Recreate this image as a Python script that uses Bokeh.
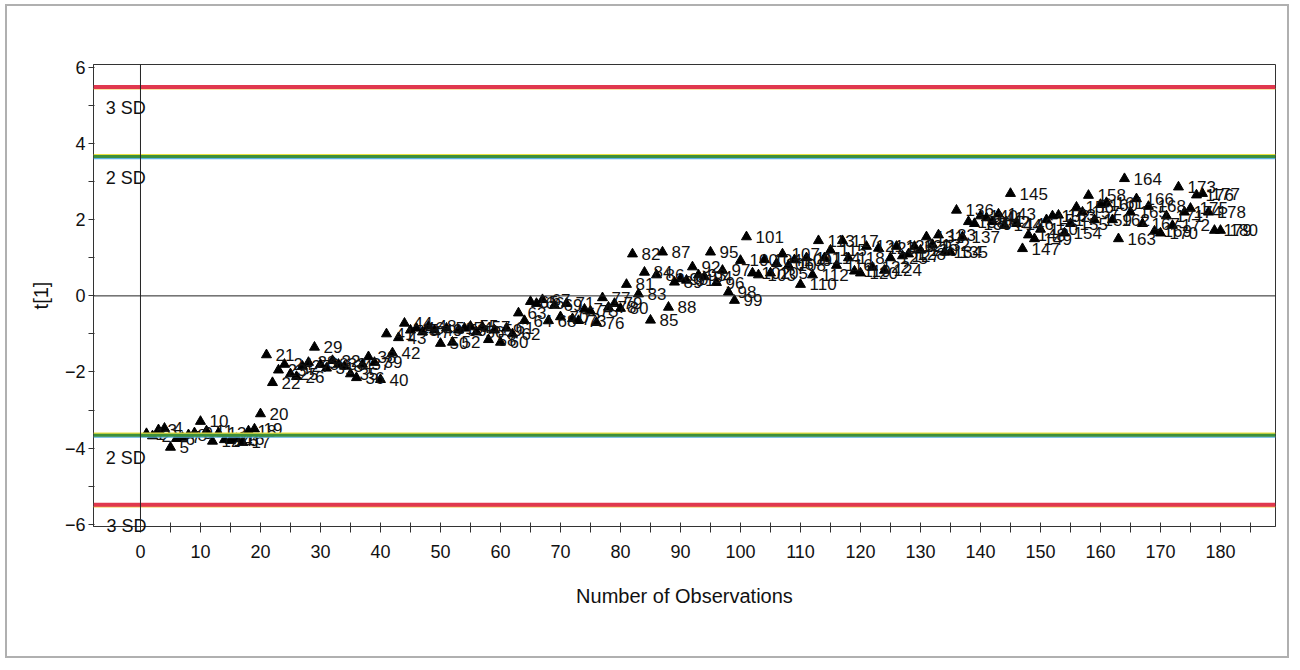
from bokeh.plotting import figure
from bokeh.models import Span, Label, FixedTicker, Range1d, ColumnDataSource, LinearAxis
from bokeh.core.properties import value
from bokeh.embed import file_html
from bokeh.resources import INLINE

obs = list(range(1, 181))
t1 = [
    -3.62, -3.68, -3.52, -3.48, -3.98, -3.75, -3.72, -3.65, -3.60, -3.30,
    -3.55, -3.82, -3.60, -3.78, -3.80, -3.75, -3.85, -3.55, -3.50, -3.10,
    -1.55, -2.28, -1.95, -1.80, -2.05, -2.12, -1.85, -1.75, -1.35, -1.80,
    -1.90, -1.70, -1.80, -1.85, -2.05, -2.15, -1.80, -1.60, -1.75, -2.20,
    -1.00, -1.50, -1.10, -0.72,
    -0.90, -0.85, -0.95, -0.80, -0.90, -1.25, -0.85, -1.22, -0.90, -0.85,
    -0.80, -0.95, -0.82, -1.15, -0.90, -1.22, -0.85, -1.00, -0.45, -0.65,
    -0.15, -0.20, -0.10, -0.65, -0.25, -0.55, -0.20, -0.60, -0.65, -0.35,
    -0.40, -0.70, -0.05, -0.30, -0.20, -0.33, 0.30, 1.10, 0.05, 0.62,
    -0.64, 0.55, 1.15, -0.30,
    0.36, 0.45, 0.41, 0.76, 0.55, 0.50, 1.15, 0.35, 0.67, 0.10, -0.12,
    0.93, 1.55, 0.60, 0.55, 0.95, 0.60, 0.85, 1.10, 0.80, 0.95,
    0.30, 1.00, 0.55, 1.45, 1.00, 1.20, 0.80, 1.45, 1.00, 0.65,
    0.60, 1.30, 0.75, 1.25, 0.67, 1.00, 1.30, 1.05, 1.10, 1.30,
    1.20, 1.55, 1.35, 1.60, 1.15, 1.15,
    2.25, 1.55, 1.95, 1.90, 2.10, 2.05, 1.95, 2.15, 1.85, 2.69,
    1.90, 1.24, 1.60, 1.50, 1.75, 2.00, 2.10, 2.12, 1.65, 1.90,
    2.33, 2.20, 2.64, 2.00, 2.40, 2.45, 2.00, 1.50, 3.08, 2.20,
    2.55, 1.90, 2.35, 1.70, 1.65, 2.10, 1.85, 2.86, 2.20, 2.30,
    2.65, 2.69, 2.20, 1.72, 1.72,
]
labels = [str(i) for i in obs]

sd2 = 3.66
sd3 = 5.49
x_ticks = list(range(0, 181, 10))
x_minor = list(range(5, 190, 10))
y_ticks = [-6, -4, -2, 0, 2, 4, 6]
y_minor = [-5, -3, -1, 1, 3, 5]

FONT = "Liberation Sans"

src = ColumnDataSource(dict(obs=obs, t1=t1, lab=labels))

p = figure(width=1284, height=654, output_backend="svg", toolbar_location=None,
           x_range=Range1d(-7.83, 189.17), y_range=Range1d(-6.06, 6.08),
           min_border_left=86, min_border_top=58, min_border_right=16,
           min_border_bottom=134)
p.margin = (4, 0, 0, 5)
p.styles = {"border": "2px solid #b0b0b0"}
p.grid.visible = False
p.outline_line_color = "#333333"
p.outline_line_width = 1
p.background_fill_color = "white"
p.border_fill_color = "white"

# SD limit lines
for s in (1, -1):
    p.add_layout(Span(location=s * sd3 - 0.05, dimension="width", line_color="#f2c84a", line_width=1.5))
    p.add_layout(Span(location=s * sd3, dimension="width", line_color="#e0384e", line_width=4))
    p.add_layout(Span(location=s * sd2 + 0.05, dimension="width", line_color="#e8e040", line_width=1.5))
    p.add_layout(Span(location=s * sd2 - 0.05, dimension="width", line_color="#5ab0e0", line_width=1.5))
    p.add_layout(Span(location=s * sd2, dimension="width", line_color="#3c8f3c", line_width=3))

p.add_layout(Span(location=0, dimension="width", line_color="#222222", line_width=1))
p.add_layout(Span(location=0, dimension="height", line_color="#222222", line_width=1))

p.scatter(x="obs", y="t1", source=src, marker="triangle", size=10,
          fill_color="black", line_color="black")
p.text(x="obs", y="t1", text="lab", source=src, x_offset=9,
       text_baseline="middle", text_align="left",
       text_font=value(FONT), text_font_size="17px", text_color="#111111")

for txt, yv in (("3 SD", 4.93), ("2 SD", 3.09), ("2 SD", -4.27)):
    p.add_layout(Label(x=-5.8, y=yv, text=txt, text_baseline="middle",
                       text_font=FONT, text_font_size="18px", text_color="#111111"))

xa = p.xaxis[0]
xa.ticker = FixedTicker(ticks=x_ticks, minor_ticks=x_minor)
xa.axis_label = "Number of Observations"
ya = p.yaxis[0]
ya.ticker = FixedTicker(ticks=y_ticks, minor_ticks=y_minor)
ya.axis_label = "t[1]"

for ax in (xa, ya):
    ax.axis_label_text_font = FONT
    ax.axis_label_text_font_size = "20px"
    ax.axis_label_text_font_style = "normal"
    ax.axis_label_text_color = "#111111"
    ax.major_label_text_font = FONT
    ax.major_label_text_font_size = "18px"
    ax.major_label_text_color = "#111111"
    ax.axis_line_color = "#333333"
    ax.major_tick_line_color = "#333333"
    ax.minor_tick_line_color = "#333333"

xa.major_tick_in = 4
xa.major_tick_out = 6
xa.minor_tick_in = 4
xa.minor_tick_out = 6
xa.major_label_standoff = 12
xa.axis_label_standoff = 24

ya.major_tick_in = 1
ya.major_tick_out = 5
ya.minor_tick_in = 1
ya.minor_tick_out = 5
ya.major_label_standoff = 3
ya.axis_label_standoff = 10

# lower "3 SD" label, drawn by a bare extra axis so it can straddle the frame edge
sd_axis = LinearAxis(ticker=FixedTicker(ticks=[-2.33], minor_ticks=[]),
                     major_label_overrides={-2.33: "3 SD"},
                     axis_line_color=None, major_tick_line_color=None,
                     minor_tick_line_color=None, major_tick_out=0, major_tick_in=0,
                     major_label_standoff=-94,
                     major_label_text_font=FONT, major_label_text_font_size="18px",
                     major_label_text_color="#111111")
p.add_layout(sd_axis, "below")

open("out.html", "w").write(file_html(p, INLINE))
